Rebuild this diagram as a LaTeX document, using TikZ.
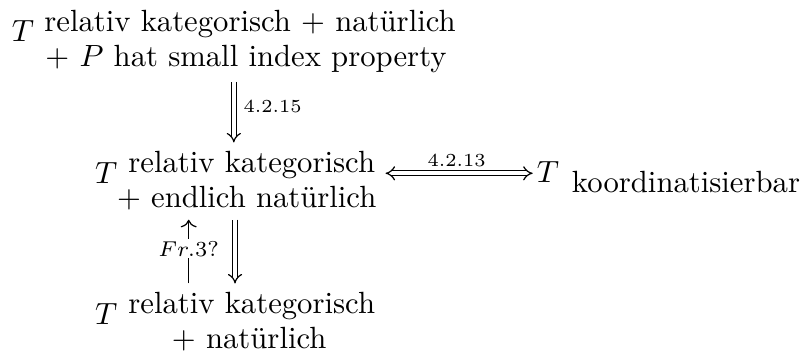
\documentclass[tikz,border=0pt]{standalone}
\usetikzlibrary{arrows.meta,fit}
\tikzset{
  txt/.style={inner sep=0pt, outer sep=0pt},
  entry/.style={inner sep=3pt, outer sep=0pt},
  dbl/.style={double, double distance=1.2pt, line width=0.4pt},
  imp/.style={dbl, -{Implies[scale=1.5]}},
  lab/.style={font=\fontsize{6}{7}\selectfont, inner sep=0pt},
  mlab/.style={font=\scriptsize, inner sep=0.6pt, fill=white},
}
\begin{document}
\begin{tikzpicture}[x=0.3259pt, y=-0.3259pt]
\useasboundingbox (0,0) rectangle (807,353);
% top entry
\node[txt, anchor=base west] (t1) at (12,42) {$T$};
\node[txt, anchor=base] (a1) at (250,31.5) {relativ kategorisch + natürlich};
\node[txt, anchor=base] (b1) at (246,66.5) {+ $P$ hat small index property};
\node[entry, fit=(t1)(a1)(b1)] (e1) {};
% middle entry
\node[txt, anchor=base west] (t2) at (95,184) {$T$};
\node[txt, anchor=base] (a2) at (251.7,173) {relativ kategorisch};
\node[txt, anchor=base] (b2) at (246.7,208) {+ endlich natürlich};
\node[entry, fit=(t2)(a2)(b2)] (e2) {};
% bottom entry
\node[txt, anchor=base west] (t3) at (95,325) {$T$};
\node[txt, anchor=base] (a3) at (251.7,314) {relativ kategorisch};
\node[txt, anchor=base] (b3) at (249.2,349) {+ natürlich};
\node[entry, fit=(t3)(a3)(b3)] (e3) {};
% right entry
\node[txt, anchor=base west] (t4) at (537,183) {$T$};
\node[txt, anchor=base west] (k4) at (572,193) {koordinatisierbar};
\node[entry, fit=(t4)(k4)] (e4) {};
% connectors
\coordinate (hy) at (0,173.3);
\draw[imp] (e1.south) -- (e1.south |- e2.north)
  node[lab, midway, anchor=base west, xshift=3pt] {4.2.15};
\draw[dbl, {Implies[scale=1.5]}-{Implies[scale=1.5]}, shorten >=-1.6pt] (e2.east |- hy) -- (e4.west |- hy)
  node[lab, midway, anchor=base, yshift=2.3pt] {4.2.13};
\draw[imp] (e3.north |- e2.south) -- (e3.north);
\coordinate (fb) at ([xshift=-15.1pt]e3.north);
\coordinate (ft) at (fb |- e2.south);
\draw[-{To}, line width=0.4pt] (fb) -- (ft) node[mlab, midway, yshift=1pt] {$Fr.3?$};
\end{tikzpicture}
\end{document}
